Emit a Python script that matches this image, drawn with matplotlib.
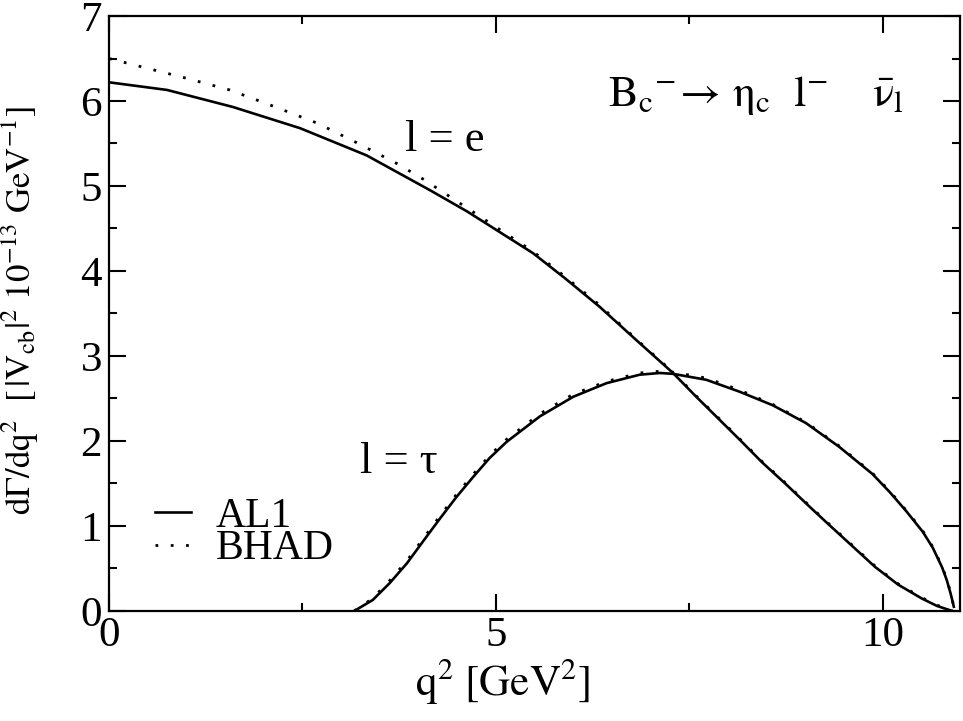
"""
Differential decay rate of Bc -> eta_c l nu for the AL1 and BHAD form factors.
"""

import matplotlib
matplotlib.use("Agg")
import matplotlib.pyplot as plt
from matplotlib.ticker import MultipleLocator

FONTSIZE = 31

# l = e, AL1 (solid)
q2_e_al1 = [0.00, 0.75, 1.60, 2.47, 3.33, 4.15, 4.63, 5.48, 5.90, 6.34,
            6.80, 7.29, 7.58, 7.88, 8.18, 8.44, 8.74, 9.04, 9.30, 9.60,
            9.90, 10.20, 10.50, 10.70, 10.90]
rate_e_al1 = [6.22, 6.13, 5.93, 5.68, 5.36, 4.95, 4.70, 4.21, 3.91, 3.58,
              3.20, 2.80, 2.53, 2.26, 1.99, 1.75, 1.50, 1.24, 1.02, 0.77,
              0.52, 0.31, 0.15, 0.06, 0.00]

# l = e, BHAD (dotted)
q2_e_bhad = [0.00, 0.43, 0.99, 1.56, 2.12, 2.69, 3.20, 3.73, 4.08, 4.63,
             5.48, 5.90, 6.34, 6.80, 7.29, 7.58, 7.88, 8.18, 8.44, 8.74,
             9.04, 9.30, 9.60, 9.90, 10.20, 10.50, 10.70, 10.90]
rate_e_bhad = [6.50, 6.40, 6.27, 6.13, 5.94, 5.74, 5.51, 5.26, 5.07, 4.74,
               4.23, 3.93, 3.60, 3.21, 2.81, 2.54, 2.27, 2.00, 1.76, 1.51,
               1.25, 1.03, 0.78, 0.53, 0.32, 0.16, 0.07, 0.00]

# l = tau, AL1 (solid)
q2_tau_al1 = [3.17, 3.41, 3.63, 3.85, 4.06, 4.28, 4.49, 4.71, 4.92, 5.14,
              5.57, 6.00, 6.43, 6.86, 7.12, 7.29, 7.72, 8.15, 8.58, 9.01,
              9.44, 9.87, 10.09, 10.30, 10.52, 10.65, 10.77, 10.83, 10.88,
              10.92]
rate_tau_al1 = [0.00, 0.13, 0.33, 0.56, 0.82, 1.09, 1.34, 1.58, 1.80, 1.99,
                2.29, 2.52, 2.68, 2.78, 2.80, 2.79, 2.72, 2.58, 2.42, 2.21,
                1.93, 1.61, 1.40, 1.18, 0.93, 0.74, 0.51, 0.36, 0.20, 0.05]

# l = tau, BHAD (dotted)
q2_tau_bhad = [3.17, 3.41, 3.63, 3.85, 4.06, 4.28, 4.49, 4.71, 4.92, 5.14,
               5.57, 6.00, 6.43, 6.86, 7.12, 7.29, 7.72, 8.15, 8.58, 9.01,
               9.44, 9.87, 10.09, 10.30, 10.52, 10.65, 10.77, 10.83, 10.88,
               10.92]
rate_tau_bhad = [0.00, 0.15, 0.36, 0.59, 0.85, 1.12, 1.37, 1.61, 1.83, 2.02,
                 2.32, 2.55, 2.70, 2.80, 2.82, 2.81, 2.74, 2.60, 2.43, 2.22,
                 1.94, 1.62, 1.41, 1.19, 0.94, 0.75, 0.52, 0.37, 0.21, 0.05]

plt.rcParams["font.family"] = ["Liberation Serif", "DejaVu Serif"]
plt.rcParams["mathtext.fontset"] = "stix"

fig = plt.figure(figsize=(9.63, 7.21), dpi=100)
ax = fig.add_axes([0.1132, 0.1526, 0.8837, 0.8252])

dotted = (0, (1, 4.5))
ax.plot(q2_e_al1, rate_e_al1, color="black", lw=1.9, label="AL1")
ax.plot(q2_e_bhad, rate_e_bhad, color="black", lw=2.0, linestyle=dotted,
        dash_capstyle="butt", label="BHAD")
ax.plot(q2_tau_al1, rate_tau_al1, color="black", lw=1.9)
ax.plot(q2_tau_bhad, rate_tau_bhad, color="black", lw=2.0, linestyle=dotted,
        dash_capstyle="butt")

ax.set_xlim(0, 11)
ax.set_ylim(0, 7)
ax.xaxis.set_major_locator(MultipleLocator(5))
ax.xaxis.set_minor_locator(MultipleLocator(2.5))
ax.yaxis.set_major_locator(MultipleLocator(1))
ax.yaxis.set_minor_locator(MultipleLocator(0.5))
ax.tick_params(which="both", direction="in", top=True, right=True,
               width=1.5, labelsize=FONTSIZE)
ax.tick_params(which="major", length=12)
ax.tick_params(which="minor", length=6)
ax.tick_params(axis="x", pad=4)
ax.tick_params(axis="y", pad=5)
for spine in ax.spines.values():
    spine.set_linewidth(1.6)

ax.set_xlabel(r"$\mathrm{q^{2}\ [GeV^{2}]}$", fontsize=FONTSIZE)
ax.xaxis.set_label_coords(0.463, -0.075, transform=ax.transAxes)
ax.set_ylabel(
    r"$\mathrm{d\Gamma/dq^{2}\ \ [\,|V_{cb}|^{2}\ 10^{-13}\ GeV^{-1}]}$",
    fontsize=25,
)
ax.yaxis.set_label_coords(-0.08, 0.505, transform=ax.transAxes)

ax.text(3.82, 5.54, "l = e", fontsize=FONTSIZE + 1, va="center")
ax.text(3.24, 1.75, "l = \u03c4", fontsize=FONTSIZE + 1, va="center")
ax.text(6.45, 6.07,
        r"$\mathrm{B_{c}{}^{-}\!\rightarrow\,\eta_{c}\ \ l^{-}\ \ \ \ \bar{\nu}_{l}}$",
        fontsize=FONTSIZE + 1, va="center")

ax.legend(
    loc="lower left",
    bbox_to_anchor=(0.03, 0.037),
    frameon=False,
    fontsize=FONTSIZE - 1,
    handlelength=0.85,
    handletextpad=0.6,
    labelspacing=-0.15,
    borderpad=0.0,
)

fig.savefig("out.png", dpi=100)
plt.close(fig)
